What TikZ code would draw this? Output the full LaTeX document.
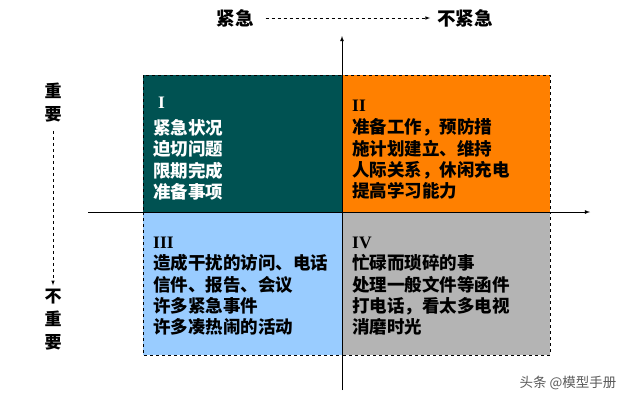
\documentclass[tikz,border=0pt]{standalone}
\usepackage{fontspec}
\setmainfont{Liberation Serif}
\newfontfamily\cjk{Noto Sans CJK SC}
\usetikzlibrary{positioning}
\definecolor{quadteal}{RGB}{0,82,82}
\definecolor{quadorange}{RGB}{255,128,0}
\definecolor{quadblue}{RGB}{153,204,255}
\definecolor{quadgray}{RGB}{180,180,180}
\definecolor{markgray}{RGB}{90,90,90}

\begin{document}
\begin{tikzpicture}[x=1pt, y=-1pt,
    quad/.style={draw=black, dashed, line width=0.5pt},
    quadtext/.style={anchor=north west, align=left, inner sep=0pt,
        font=\cjk\bfseries\fontsize{17.5}{21.3}\selectfont},
    axisline/.style={line width=0.8pt, -latex},
    guide/.style={dashed, line width=0.6pt, -latex},
    toplabel/.style={inner sep=0pt, font=\cjk\bfseries\fontsize{18.5}{22}\selectfont},
    sidelabel/.style={inner sep=0pt, align=center, font=\cjk\bfseries\fontsize{17}{23}\selectfont}]
            \useasboundingbox (0,0) rectangle (640,405);
            \coordinate (xl) at (88,212);
            \coordinate (xr) at (590,212);
            \coordinate (yb) at (342,390);
            \coordinate (yt) at (342,36);
            \filldraw[quad, fill=quadteal] (143,75) rectangle (342,212);
            \filldraw[quad, fill=quadorange] (342,75) rectangle (550,212);
            \filldraw[quad, fill=quadblue] (143,212) rectangle (342,355);
            \filldraw[quad, fill=quadgray] (342,212) rectangle (550,355);
            \draw[axisline] (xl) -- (xr);
            \draw[axisline] (yb) -- (yt);
            \node[quadtext, text=white] (q1) at (153,97)
                {\hspace{5pt}\textrm{I}\\[4.5pt]紧急状况\\迫切问题\\限期完成\\准备事项};
            \node[quadtext] (q2) at (352,100)
                {\textrm{II}\\[1pt]准备工作，预防措\\施计划建立、维持\\人际关系，休闲充电\\提高学习能力};
            \node[quadtext] (q3) at (153,237)
                {\textrm{III}\\造成干扰的访问、电话\\信件、报告、会议\\许多紧急事件\\许多凑热闹的活动};
            \node[quadtext] (q4) at (352,237)
                {\textrm{IV}\\忙碌而琐碎的事\\处理一般文件等函件\\打电话，看太多电视\\消磨时光};
            \node[toplabel] (urgent) at (235,18) {紧急};
            \node[toplabel] (noturgent) at (465,18) {不紧急};
            \draw[guide] ([xshift=12pt]urgent.east) -- ([xshift=-7pt]noturgent.west);
            \node[sidelabel] (important) at (53,103) {重\\要};
            \node[sidelabel] (notimportant) at (53,320) {不\\重\\要};
            \draw[guide] ([yshift=-8pt]important.south) -- ([yshift=4pt]notimportant.north);
            \node[text=markgray, inner sep=0pt, font=\cjk\fontsize{13.5}{16}\selectfont] (mark) at (568,383) {头条 @模型手册};
        \end{tikzpicture}
\end{document}
